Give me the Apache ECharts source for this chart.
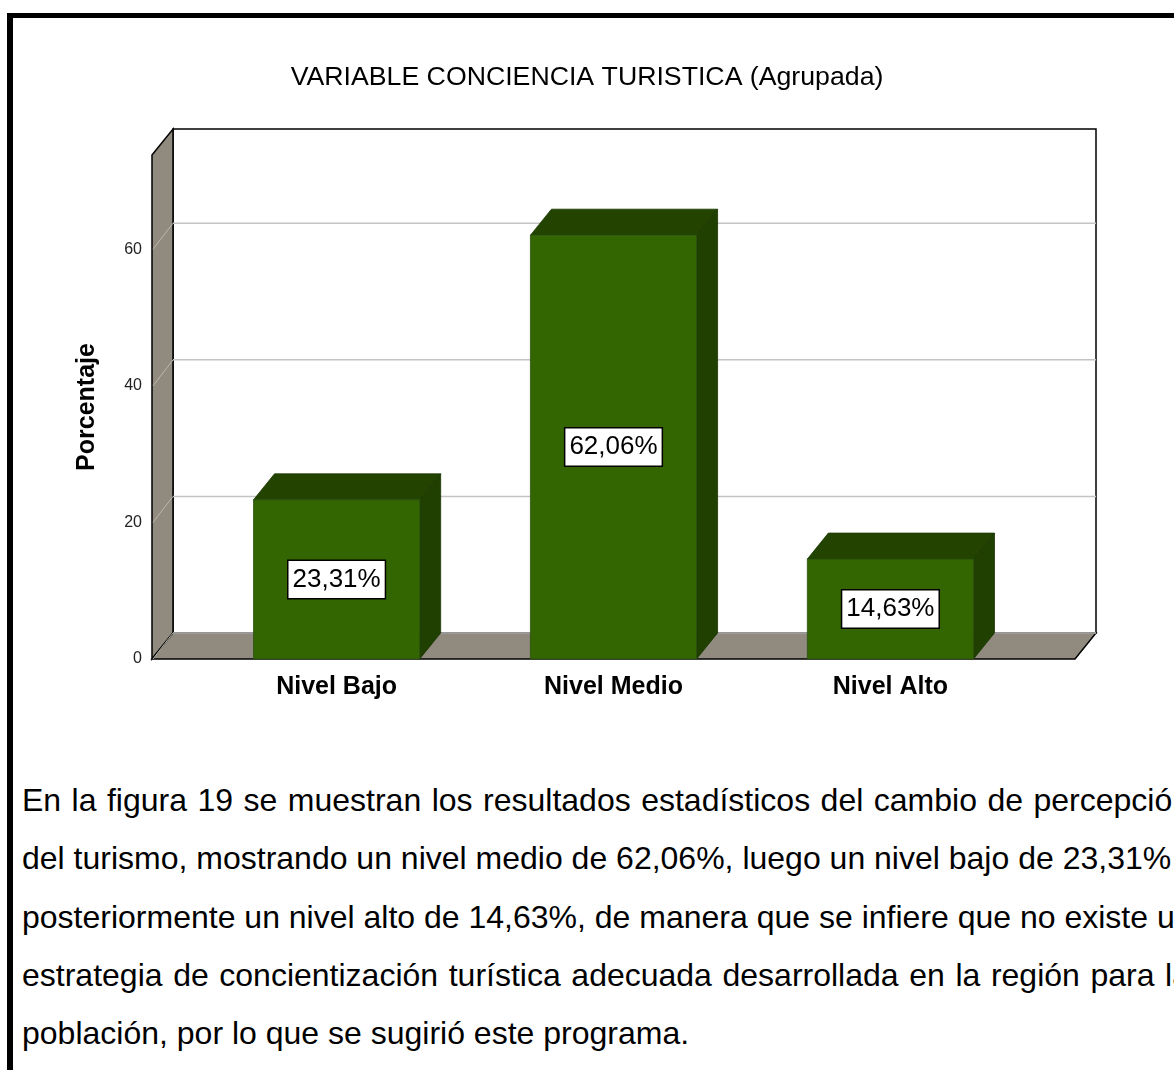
<!DOCTYPE html>
<html>
<head>
<meta charset="utf-8">
<title>VARIABLE CONCIENCIA TURISTICA (Agrupada)</title>
<script src="https://cdn.jsdelivr.net/npm/echarts@6/dist/echarts.min.js"></script>
<style>
    html, body {
        margin: 0;
        padding: 0;
        width: 1174px;
        height: 1070px;
        overflow: hidden;
        background: #fff;
        font-family: "Liberation Sans", Arial, sans-serif;
    }
    #frame {
        position: absolute;
        left: 7px;
        top: 13px;
        width: 1400px;
        height: 1200px;
        border-left: 6px solid #000;
        border-top: 5px solid #000;
    }
    #chart {
        position: absolute;
        left: 0;
        top: 0;
        width: 1174px;
        height: 760px;
    }
    #texto {
        position: absolute;
        left: 22px;
        top: 771px;
        width: 1168px;
        font-size: 32px;
        line-height: 58.3px;
        color: #000;
        white-space: nowrap;
    }
    #texto .linea {
        text-align: justify;
        text-align-last: justify;
    }
    #texto .linea.ultima {
        text-align: left;
        text-align-last: left;
    }
</style>
</head>
<body>
<div id="frame"></div>
<div id="chart"></div>
<div id="texto">
    <div class="linea">En la figura 19 se muestran los resultados estadísticos del cambio de percepción</div>
    <div class="linea">del turismo, mostrando un nivel medio de 62,06%, luego un nivel bajo de 23,31% y</div>
    <div class="linea">posteriormente un nivel alto de 14,63%, de manera que se infiere que no existe una</div>
    <div class="linea">estrategia de concientización turística adecuada desarrollada en la región para la</div>
    <div class="linea ultima">población, por lo que se sugirió este programa.</div>
</div>
<script>
(() => {
    const categories = ["Nivel Bajo", "Nivel Medio", "Nivel Alto"];
    const porcentajes = [23.31, 62.06, 14.63];
    const yTicks = [0, 20, 40, 60];

    const fontFamily = "Liberation Sans, Arial, sans-serif";
    const depthX = 21;
    const depthY = -26;
    const barWidth = 0.6;
    const wallColor = "#908b7e";
    const gridColor = "#c4c4c4";

    const formatPercent = (value) => value.toFixed(2).replace(".", ",") + "%";

    const renderWalls = (params, api) => {
        const cs = params.coordSys;
        const x0 = cs.x;
        const x1 = cs.x + cs.width;
        const yTop = cs.y;
        const yBase = api.coord([0, 0])[1];
        const children = [];
        // back wall
        children.push({
            type: "rect",
            shape: { x: x0 + depthX, y: yTop + depthY, width: x1 - x0, height: yBase - yTop },
            style: { fill: "#fff", stroke: "#000", lineWidth: 1.5 }
        });
        // left wall
        children.push({
            type: "polygon",
            shape: { points: [[x0, yTop], [x0 + depthX, yTop + depthY], [x0 + depthX, yBase + depthY], [x0, yBase]] },
            style: { fill: wallColor, stroke: "#000", lineWidth: 1.5 }
        });
        // floor
        children.push({
            type: "polygon",
            shape: { points: [[x0, yBase], [x0 + depthX, yBase + depthY], [x1 + depthX, yBase + depthY], [x1, yBase]] },
            style: { fill: wallColor, stroke: "#000", lineWidth: 1.5 }
        });
        children.push({
            type: "line",
            shape: { x1: x0 + depthX, y1: yBase + depthY, x2: x1 + depthX, y2: yBase + depthY },
            style: { stroke: gridColor, lineWidth: 1.5 }
        });
        for (const tick of yTicks) {
            const y = api.coord([0, tick])[1];
            if (tick > 0) {
                children.push({
                    type: "line",
                    shape: { x1: x0 + depthX, y1: y + depthY, x2: x1 + depthX, y2: y + depthY },
                    style: { stroke: gridColor, lineWidth: 1.5 }
                });
            }
            children.push({
                type: "line",
                shape: { x1: x0 + 1, y1: y, x2: x0 + depthX, y2: y + depthY },
                style: { stroke: "#b8b8b0", lineWidth: 1 }
            });
        }
        return { type: "group", children };
    };

    const renderBar = (params, api) => {
        const index = api.value(0);
        const value = api.value(1);
        const top = api.coord([index, value]);
        const base = api.coord([index, 0]);
        const width = api.size([barWidth, 0])[0];
        const xl = top[0] - width / 2;
        const xr = top[0] + width / 2;
        const yt = top[1];
        const yb = base[1];
        return {
            type: "group",
            children: [
                {
                    type: "polygon",
                    shape: { points: [[xl, yt], [xl + depthX, yt + depthY], [xr + depthX, yt + depthY], [xr, yt]] },
                    style: { fill: "#234400", stroke: "#1c3800", lineWidth: 0.8 }
                },
                {
                    type: "polygon",
                    shape: { points: [[xr, yt], [xr + depthX, yt + depthY], [xr + depthX, yb + depthY], [xr, yb]] },
                    style: { fill: "#1f4000", stroke: "#1a3500", lineWidth: 0.8 }
                },
                {
                    type: "rect",
                    shape: { x: xl, y: yt, width: width, height: yb - yt },
                    style: { fill: "#336600", stroke: "#2a4f10", lineWidth: 0.8 }
                },
                {
                    type: "text",
                    x: top[0],
                    y: (yt + yb) / 2,
                    style: {
                        text: formatPercent(value),
                        fontFamily,
                        fontSize: 26,
                        lineHeight: 28,
                        fill: "#000",
                        align: "center",
                        verticalAlign: "middle",
                        backgroundColor: "#fff",
                        borderColor: "#000",
                        borderWidth: 1.5,
                        padding: [5, 4, 4, 4]
                    }
                }
            ]
        };
    };

    const chart = echarts.init(document.getElementById("chart"), null, { renderer: "canvas" });
    chart.setOption({
        animation: false,
        backgroundColor: "transparent",
        title: {
            text: "VARIABLE CONCIENCIA TURISTICA (Agrupada)",
            left: "center",
            top: 59,
            textStyle: {
                fontFamily,
                fontSize: 26.7,
                fontWeight: "normal",
                color: "#000"
            }
        },
        grid: {
            left: 152,
            right: 99,
            top: 155,
            bottom: 101
        },
        xAxis: {
            type: "value",
            min: -2 / 3,
            max: 8 / 3,
            axisLine: { show: false },
            axisTick: { show: false },
            splitLine: { show: false },
            axisLabel: {
                customValues: [0, 1, 2],
                formatter: (value) => categories[Math.round(value)] || "",
                margin: 16,
                fontFamily,
                fontSize: 25,
                fontWeight: "bold",
                color: "#000"
            }
        },
        yAxis: {
            type: "value",
            min: 0,
            max: 73.8,
            interval: 20,
            name: "Porcentaje",
            nameLocation: "middle",
            nameRotate: 90,
            nameGap: 52,
            nameTextStyle: {
                fontFamily,
                fontSize: 25,
                fontWeight: "bold",
                color: "#000"
            },
            axisLine: { show: false },
            axisTick: { show: false },
            splitLine: { show: false },
            axisLabel: {
                showMaxLabel: false,
                formatter: (value) => (yTicks.includes(value) ? String(value) : ""),
                margin: 10,
                fontFamily,
                fontSize: 16,
                color: "#222"
            }
        },
        series: [
            {
                type: "custom",
                renderItem: renderWalls,
                data: [[0, 0]],
                silent: true,
                z: 1
            },
            {
                type: "custom",
                renderItem: renderBar,
                data: porcentajes.map((value, index) => [index, value]),
                z: 2
            }
        ]
    });
})();
</script>
</body>
</html>
